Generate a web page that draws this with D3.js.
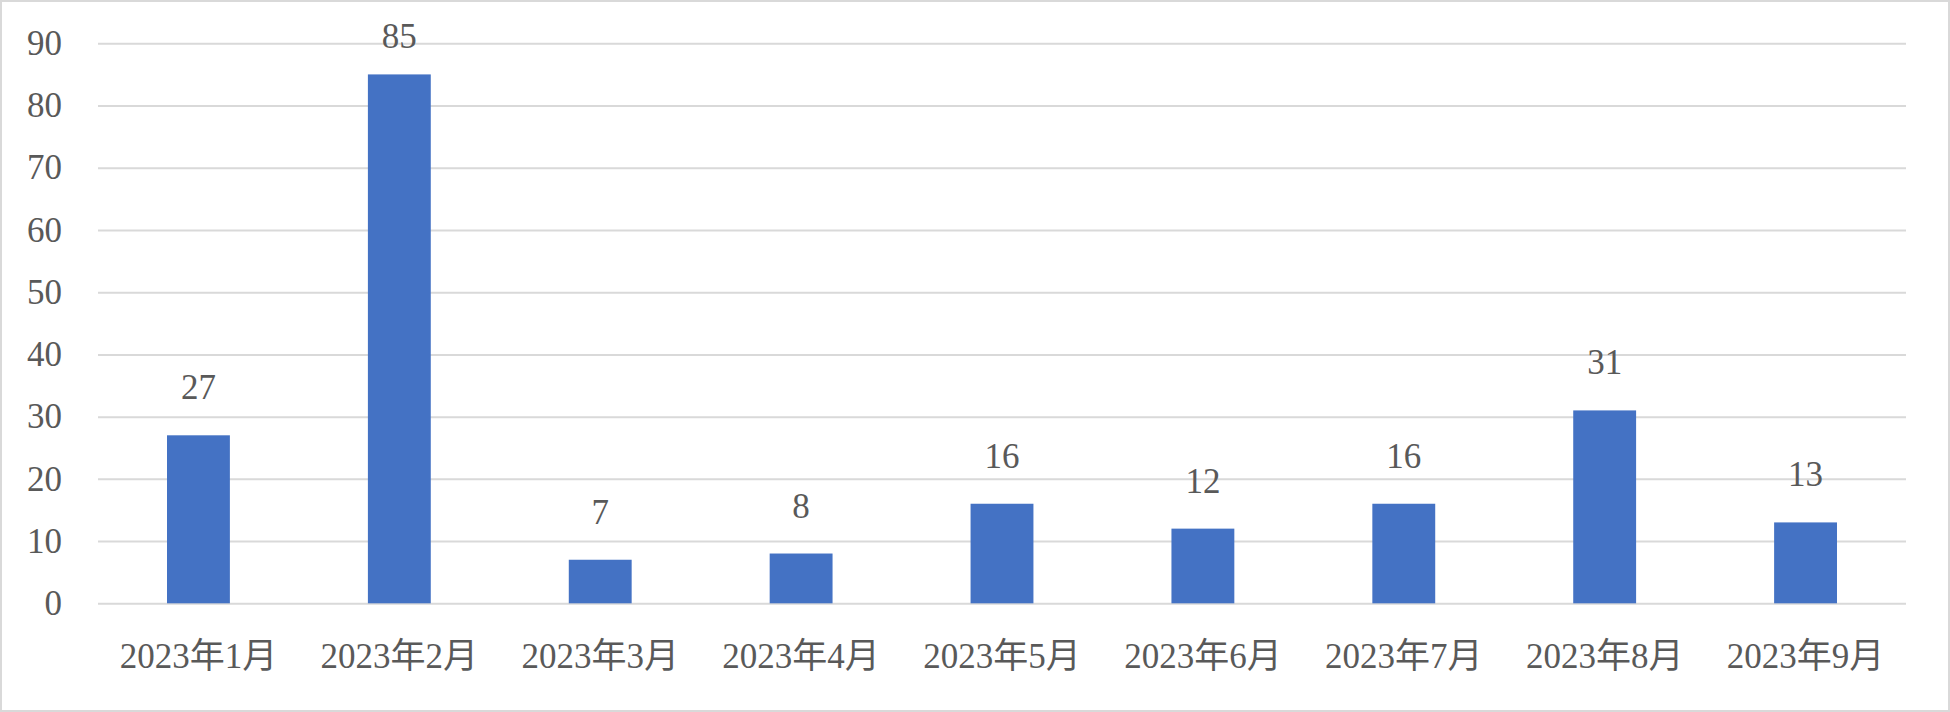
<!DOCTYPE html>
<html>
<head>
<meta charset="utf-8">
<script src="https://cdn.jsdelivr.net/npm/d3@7"></script>
<style>
  html, body { margin: 0; padding: 0; background: #ffffff; }
  svg { display: block; }
  .tick text, .lbl { font-family: "Liberation Serif", "Noto Sans CJK JP", serif; fill: #595959; }
</style>
</head>
<body>
<svg id="chart" width="1950" height="712"></svg>
<script>
const categories = ["2023年1月","2023年2月","2023年3月","2023年4月","2023年5月","2023年6月","2023年7月","2023年8月","2023年9月"];
const values = [27, 85, 7, 8, 16, 12, 16, 31, 13];
const yTicks = [0, 10, 20, 30, 40, 50, 60, 70, 80, 90];

const W = 1950, H = 712;
const plot = { left: 98, right: 1906, top: 43.3, bottom: 603.3 };

const svg = d3.select("#chart");

svg.append("rect")
  .attr("x", 1).attr("y", 1).attr("width", W - 2).attr("height", H - 2)
  .attr("fill", "#ffffff").attr("stroke", "#d9d9d9").attr("stroke-width", 2);

const x = d3.scaleBand().domain(categories).range([plot.left, plot.right]).padding(0);
const y = d3.scaleLinear().domain([0, 90]).range([plot.bottom, plot.top]);

// Y axis with gridlines
const yAxis = d3.axisLeft(y).tickValues(yTicks).tickSize(-(plot.right - plot.left)).tickPadding(36);
const gy = svg.append("g").attr("transform", `translate(${plot.left},0)`).call(yAxis);
gy.select(".domain").remove();
gy.selectAll(".tick line").attr("stroke", "#d9d9d9").attr("stroke-width", 2);
gy.selectAll(".tick text").attr("font-size", 35).attr("dy", "0.32em");

// Bars
const barW = x.bandwidth() * 0.313;
svg.append("g").selectAll("rect").data(values).join("rect")
  .attr("x", (d, i) => x(categories[i]) + (x.bandwidth() - barW) / 2)
  .attr("y", d => y(d))
  .attr("width", barW)
  .attr("height", d => y(0) - y(d))
  .attr("fill", "#4472c4");

// Value labels
svg.append("g").selectAll("text").data(values).join("text")
  .attr("class", "lbl")
  .attr("x", (d, i) => x(categories[i]) + x.bandwidth() / 2)
  .attr("y", d => Math.max(y(d) - 36, 48))
  .attr("text-anchor", "middle")
  .attr("font-size", 35)
  .text(d => d);

// X axis labels
const xAxis = d3.axisBottom(x).tickSize(0).tickPadding(0);
const gx = svg.append("g").attr("transform", `translate(0,${plot.bottom})`).call(xAxis);
gx.select(".domain").remove();
gx.selectAll(".tick text").attr("font-size", 35).attr("dy", 0).attr("y", 65);
</script>
</body>
</html>
